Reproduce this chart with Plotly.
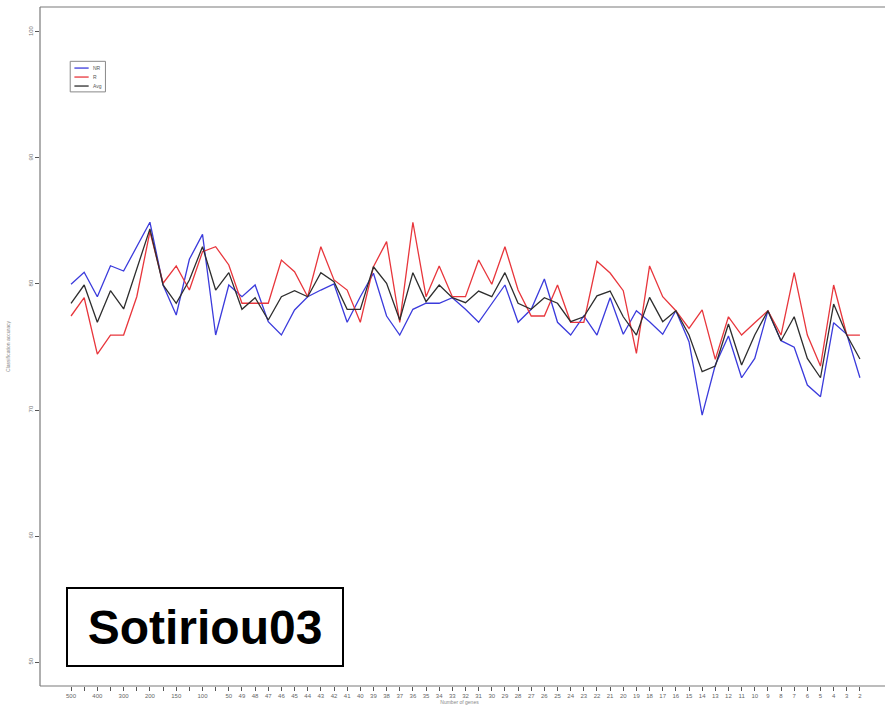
import plotly.graph_objects as go

# Number of genes kept at each step of the feature-elimination run
genes = [500, 450, 400, 350, 300, 250, 200, 175, 150, 125, 100, 75] + list(range(50, 1, -1))
# Tick labels that are printed (the rest are skipped to avoid overlap)
hidden_labels = {450, 350, 250, 175, 125, 75}

nr_acc = [79.98, 80.93, 78.99, 81.45, 81.03, 82.96, 84.90, 79.92, 77.54, 81.96,
          83.94, 75.95, 79.92, 78.99, 79.92, 77.01, 75.95, 77.94, 78.99, 79.52,
          80.00, 76.96, 78.99, 80.85, 77.46, 75.95, 77.99, 78.47, 78.47, 78.91,
          77.99, 76.96, 78.47, 79.92, 76.96, 77.99, 80.40, 76.96, 75.95, 77.46,
          75.95, 78.91, 76.01, 77.88, 77.01, 76.01, 77.88, 75.42, 69.60, 73.57,
          75.87, 72.56, 74.10, 77.88, 75.50, 74.98, 71.98, 71.06, 76.93, 76.01,
          72.56]

r_acc = [77.46, 78.91, 74.44, 75.95, 75.95, 78.99, 84.15, 80.06, 81.43, 79.52,
         82.56, 82.96, 81.51, 78.47, 78.47, 78.47, 81.90, 80.98, 78.99, 82.96,
         80.32, 79.52, 76.96, 81.37, 83.36, 76.96, 84.90, 78.99, 81.43, 78.99,
         78.99, 81.90, 79.98, 82.96, 79.52, 77.46, 77.46, 79.92, 76.96, 76.96,
         81.80, 80.87, 79.47, 74.50, 81.43, 78.99, 77.88, 76.48, 77.94, 74.02,
         77.40, 75.95, 76.93, 77.88, 75.95, 80.90, 75.95, 73.49, 79.92, 75.95,
         75.95]

avg_acc = [78.47, 79.92, 76.96, 79.47, 78.02, 81.11, 84.37, 79.92, 78.47, 80.32,
           82.96, 79.52, 80.90, 77.99, 78.91, 77.14, 78.99, 79.47, 78.99, 80.90,
           80.18, 77.99, 77.99, 81.37, 80.06, 77.14, 80.90, 78.60, 79.92, 78.91,
           78.52, 79.44, 78.99, 80.90, 78.47, 77.99, 78.91, 78.47, 77.01, 77.40,
           79.06, 79.44, 77.40, 75.95, 78.94, 77.01, 77.88, 75.95, 73.04, 73.49,
           76.83, 73.57, 75.95, 77.88, 75.50, 77.40, 74.10, 72.56, 78.41, 75.95,
           74.05]

y_ticks = [50, 60, 70, 80, 90, 100]

x_cats = [str(g) for g in genes]
x_text = ["" if g in hidden_labels else str(g) for g in genes]

FONT = "Arial, Liberation Sans, sans-serif"
axis_grey = "#7a7a7a"

fig = go.Figure()
series = [("NR", nr_acc, "#3b3bdc"), ("R", r_acc, "#e8363c"), ("Avg", avg_acc, "#2e2e2e")]
for name, vals, col in series:
    fig.add_trace(go.Scatter(x=x_cats, y=vals, mode="lines", name=name,
                             line=dict(color=col, width=1.3)))

fig.update_layout(
    width=885, height=716,
    margin=dict(l=40, r=6, t=7, b=30),
    paper_bgcolor="white", plot_bgcolor="white",
    showlegend=False,
    xaxis=dict(type="category", range=[-2.36, 61.45],
               tickmode="array", tickvals=x_cats, ticktext=x_text,
               showgrid=False, zeroline=False, showline=False,
               ticks="outside", ticklen=4, tickcolor="#555555", tickwidth=1,
               tickfont=dict(family=FONT, size=6, color="#666666"),
               title=dict(text="Number of genes", standoff=2,
                          font=dict(family=FONT, size=5, color="#888888"))),
    yaxis=dict(range=[48.1, 101.98], tickmode="array", tickvals=y_ticks,
               ticktext=[str(v) for v in y_ticks], tickangle=-90,
               showgrid=False, zeroline=False, showline=False,
               ticks="outside", ticklen=4, tickcolor="#555555", tickwidth=1,
               tickfont=dict(family=FONT, size=6, color="#777777"),
               title=dict(text="Classification accuracy", standoff=16,
                          font=dict(family=FONT, size=5, color="#888888"))),
)

# Open frame: left, bottom and top edges; the box runs on past the right edge
frame = dict(color=axis_grey, width=1.2)
fig.add_shape(type="line", xref="paper", yref="paper", x0=0, x1=1.01, y0=0, y1=0, line=frame)
fig.add_shape(type="line", xref="paper", yref="paper", x0=0, x1=1.01, y0=1, y1=1, line=frame)
fig.add_shape(type="line", xref="paper", yref="paper", x0=0, x1=0, y0=0, y1=1, line=frame)

# Compact legend box in the upper-left corner
lg_x0, lg_x1, lg_y0, lg_y1 = 0.036, 0.078, 0.875, 0.92
fig.add_shape(type="rect", xref="paper", yref="paper",
              x0=lg_x0, x1=lg_x1, y0=lg_y0, y1=lg_y1,
              line=dict(color="#888888", width=1), fillcolor="white")
row_step = (lg_y1 - lg_y0) / 3.4
for k, (name, _, col) in enumerate(series):
    yy = lg_y1 - row_step * (k + 0.75)
    fig.add_shape(type="line", xref="paper", yref="paper",
                  x0=lg_x0 + 0.005, x1=lg_x0 + 0.022, y0=yy, y1=yy,
                  line=dict(color=col, width=1.3))
    fig.add_annotation(text=name, xref="paper", yref="paper",
                       x=lg_x0 + 0.025, y=yy, xanchor="left", yanchor="middle",
                       showarrow=False, font=dict(family=FONT, size=5, color="#555555"))

fig.add_annotation(
    text="<b>Sotiriou03</b>", xref="paper", yref="paper",
    x=0.0306, y=0.028, xanchor="left", yanchor="bottom",
    showarrow=False, align="center",
    font=dict(family=FONT, size=48, color="black"),
    bgcolor="white", bordercolor="black", borderwidth=2,
    width=272, height=74,
)

fig.write_html("out.html")
